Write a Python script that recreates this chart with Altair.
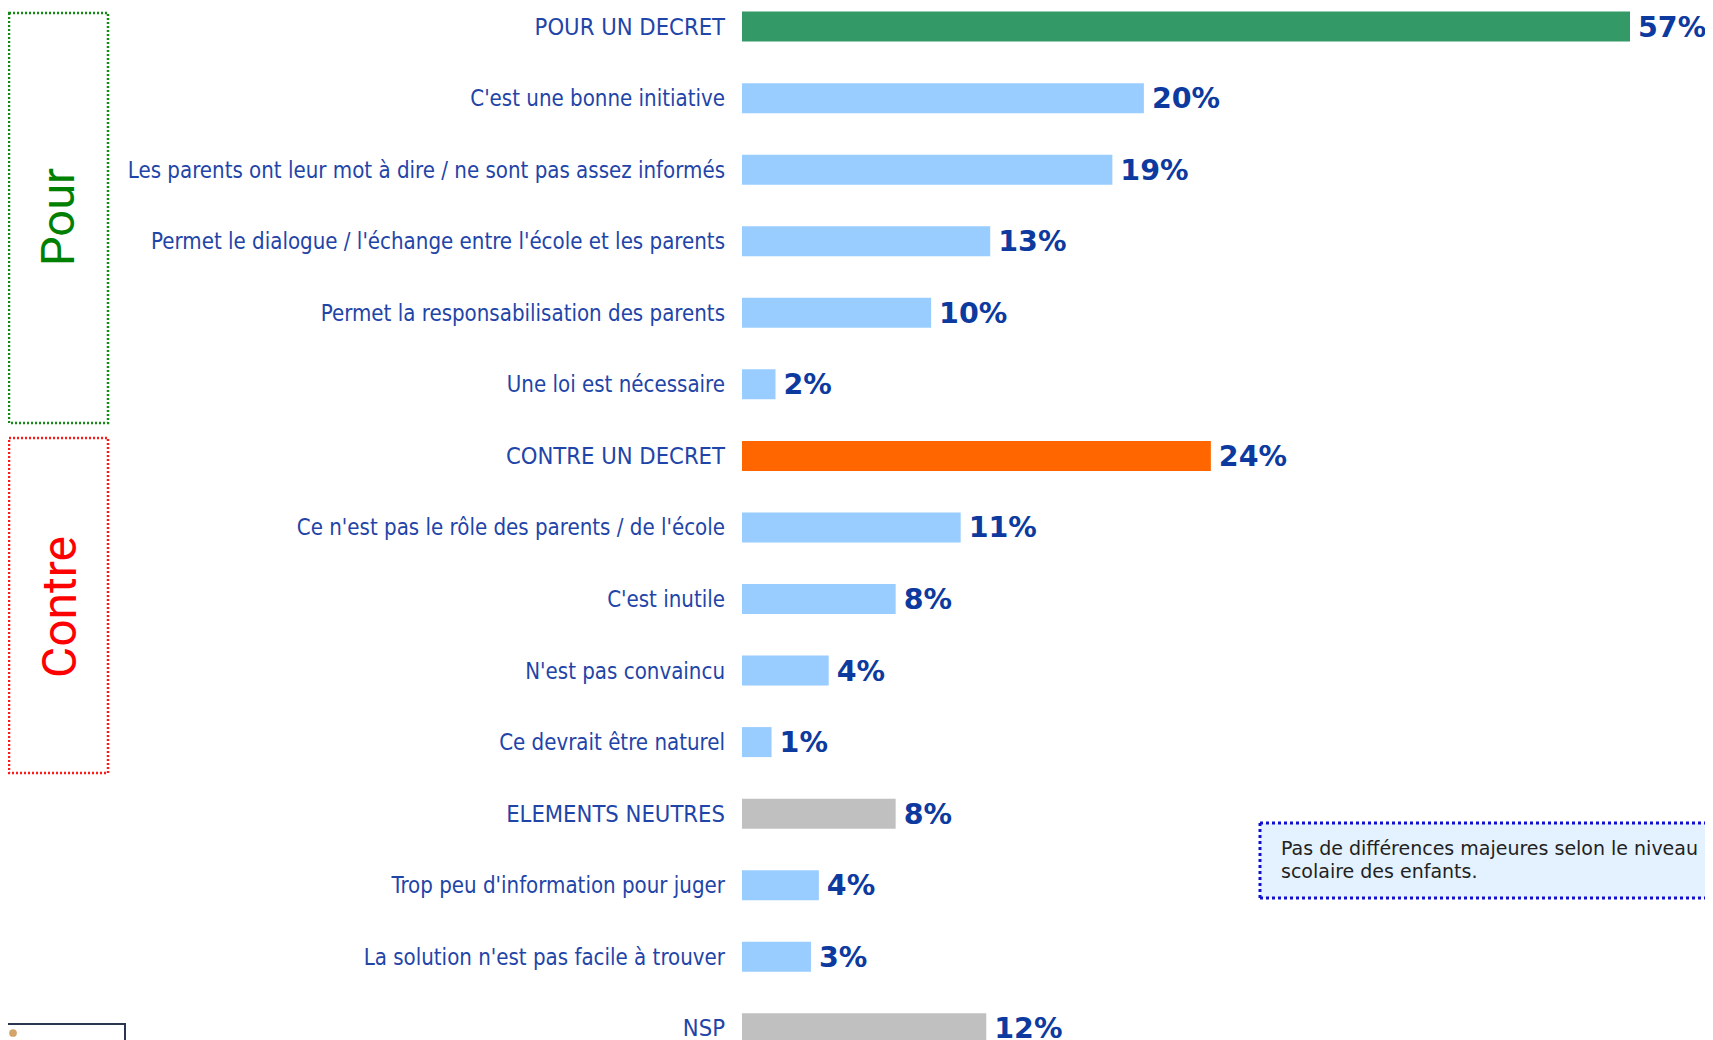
import altair as alt
import pandas as pd

categories = [
    "POUR UN DECRET",
    "C'est une bonne initiative",
    "Les parents ont leur mot à dire / ne sont pas assez informés",
    "Permet le dialogue / l'échange entre l'école et les parents",
    "Permet la responsabilisation des parents",
    "Une loi est nécessaire",
    "CONTRE UN DECRET",
    "Ce n'est pas le rôle des parents /  de l'école",
    "C'est inutile",
    "N'est pas convaincu",
    "Ce devrait être naturel",
    "ELEMENTS NEUTRES",
    "Trop peu d'information pour juger",
    "La solution n'est pas facile à trouver",
    "NSP",
]
# percentages printed on the chart
labels = [57, 20, 19, 13, 10, 2, 24, 11, 8, 4, 1, 8, 4, 3, 12]
# bar lengths as drawn (the 57% bar is cut by the axis break)
bar_values = [57, 20.4, 18.8, 12.6, 9.6, 1.7, 23.8, 11.1, 7.8, 4.4, 1.5, 7.8, 3.9, 3.5, 12.4]
groups = ["pour", "detail", "detail", "detail", "detail", "detail",
          "contre", "detail", "detail", "detail", "detail",
          "neutre", "detail", "detail", "neutre"]

group_domain = ["pour", "contre", "neutre", "detail"]
group_colors = ["#339966", "#FF6600", "#C0C0C0", "#99CCFF"]

df = pd.DataFrame({"cat": categories, "value": bar_values, "pct": labels, "group": groups})
df["idx"] = range(len(df))

W, H = 1697, 1032
PX_PER_PCT = 19.7
ZERO_PX = 734
ROW_PX = 71.55
FIRST_ROW_PX = 18.6
x_d0 = -ZERO_PX / PX_PER_PCT
x_d1 = x_d0 + W / PX_PER_PCT
y_d0 = -FIRST_ROW_PX / ROW_PX
y_d1 = y_d0 + H / ROW_PX
CAP = (1622 - ZERO_PX) / PX_PER_PCT  # axis break for the 57% bar

xs = alt.Scale(domain=[x_d0, x_d1], nice=False, zero=False, padding=0)
ys = alt.Scale(domain=[y_d0, y_d1], nice=False, zero=False, reverse=True, padding=0)

base = alt.Chart(df).transform_calculate(
    shown=f"min(datum.value, {CAP})",
    label="datum.pct + '%'",
)

bars = base.mark_bar(orient="horizontal", size=30).encode(
    x=alt.X("shown:Q", scale=xs, axis=None),
    x2=alt.datum(0),
    y=alt.Y("idx:Q", scale=ys, axis=None),
    color=alt.Color("group:N", scale=alt.Scale(domain=group_domain, range=group_colors), legend=None),
)

vals = base.mark_text(align="left", baseline="middle", dx=8, dy=1,
                      font="DejaVu Sans", fontWeight="bold", fontSize=28.5,
                      color="#0D3A9E").encode(
    x=alt.X("shown:Q", scale=xs), y=alt.Y("idx:Q", scale=ys), text="label:N")

cats = base.mark_text(align="right", baseline="middle", dx=-17, dy=1,
                      font="DejaVu Sans Condensed",
                      color="#1F45A8").encode(
    x=alt.value(ZERO_PX),
    y=alt.Y("idx:Q", scale=ys), text="cat:N",
    size=alt.condition("datum.group == 'detail'", alt.value(22.1), alt.value(23.6)),
)

one = pd.DataFrame({"a": [0]})
pour_box = alt.Chart(one).mark_rect(fill="transparent", stroke="#138A13", strokeWidth=2.5,
                                    strokeDash=[2, 2]).encode(
    x=alt.value(1), x2=alt.value(100), y=alt.value(5), y2=alt.value(415))
contre_box = alt.Chart(one).mark_rect(fill="transparent", stroke="#FF1A1A", strokeWidth=2.5,
                                      strokeDash=[2, 2]).encode(
    x=alt.value(1), x2=alt.value(100), y=alt.value(430), y2=alt.value(765))
pour_txt = alt.Chart(one).mark_text(text="Pour", angle=270, align="center", baseline="middle",
                                    font="Roboto", fontSize=47, color="#008000").encode(
    x=alt.value(52), y=alt.value(209))
contre_txt = alt.Chart(one).mark_text(text="Contre", angle=270, align="center", baseline="middle",
                                      font="Roboto", fontSize=48, color="#FF0000").encode(
    x=alt.value(54), y=alt.value(599))

NX0, NX1, NY0, NY1 = 1252, 1730, 815, 890
note_fill = alt.Chart(one).mark_rect(fill="#E4F2FF").encode(
    x=alt.value(NX0), x2=alt.value(NX1), y=alt.value(NY0), y2=alt.value(NY1))
note_top = alt.Chart(one).mark_rule(stroke="#1010CC", strokeWidth=3, strokeDash=[3, 3]).encode(
    x=alt.value(NX0), x2=alt.value(NX1), y=alt.value(NY0))
note_bottom = alt.Chart(one).mark_rule(stroke="#1010CC", strokeWidth=3, strokeDash=[3, 3]).encode(
    x=alt.value(NX0), x2=alt.value(NX1), y=alt.value(NY1))
note_left = alt.Chart(one).mark_rule(stroke="#1010CC", strokeWidth=3, strokeDash=[3, 3]).encode(
    x=alt.value(NX0), y=alt.value(NY0), y2=alt.value(NY1))
note_txt = alt.Chart(one).mark_text(
    text=["Pas de différences majeures selon le niveau", "scolaire des enfants."],
    align="left", baseline="middle", lineHeight=23, font="DejaVu Sans", fontSize=19,
    color="#222222").encode(x=alt.value(1273), y=alt.value(841))

corner_box = alt.Chart(one).mark_rect(fill="white", stroke="#2A3550", strokeWidth=2).encode(
    x=alt.value(-10), x2=alt.value(117), y=alt.value(1016), y2=alt.value(1060))
corner_dot = alt.Chart(one).mark_point(filled=True, color="#D4A46A", size=60, opacity=1).encode(
    x=alt.value(5), y=alt.value(1025))

chart = alt.layer(
    pour_box, contre_box, pour_txt, contre_txt, bars, vals, cats,
    note_fill, note_top, note_bottom, note_left, note_txt, corner_box, corner_dot
).properties(
    width=W, height=H, padding=0,
    autosize=alt.AutoSizeParams(type="none"),
).configure_view(stroke=None)

chart.save("out.html", embed_options={"renderer": "svg", "actions": False})
